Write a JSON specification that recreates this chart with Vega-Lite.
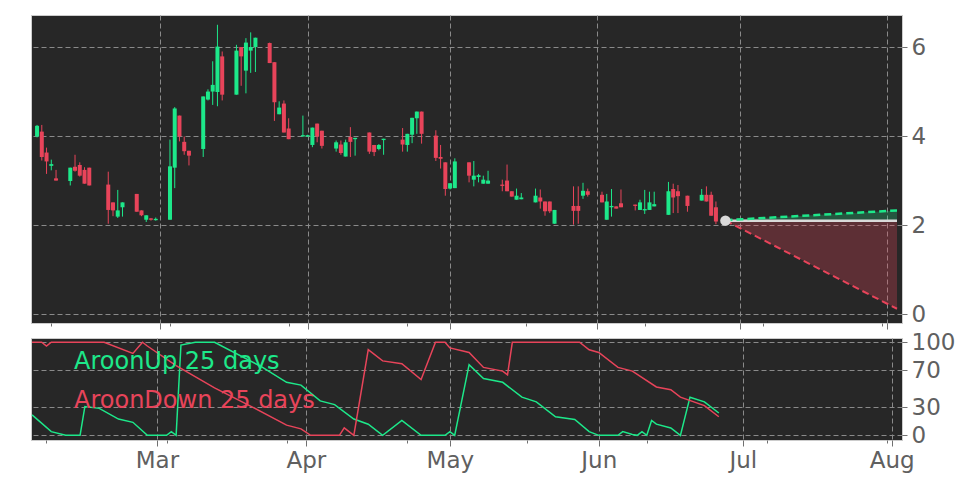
{
  "$schema": "https://vega.github.io/schema/vega-lite/v6.json",
  "background": "white",
  "padding": {"left": 30, "top": 14, "right": 0, "bottom": 0},
  "spacing": 15,
  "bounds": "flush",
  "config": {
    "font": "DejaVu Sans",
    "view": {"fill": "#272727", "stroke": "#cccccc", "strokeWidth": 1},
    "axis": {
      "labelFont": "DejaVu Sans",
      "labelFontSize": 23,
      "labelColor": "#606060",
      "tickColor": "#707070",
      "domain": false,
      "gridColor": "#8a8a8a",
      "gridDash": [5, 3],
      "gridWidth": 1,
      "title": null
    }
  },
  "datasets": {
    "candles": [
      {"d": "2025-02-03", "o": 3.99, "h": 4.25, "l": 3.97, "c": 4.23},
      {"d": "2025-02-04", "o": 4.10, "h": 4.25, "l": 3.45, "c": 3.53},
      {"d": "2025-02-05", "o": 3.63, "h": 3.74, "l": 3.15, "c": 3.43},
      {"d": "2025-02-06", "o": 3.33, "h": 3.47, "l": 3.23, "c": 3.37},
      {"d": "2025-02-07", "o": 3.05, "h": 3.24, "l": 3.00, "c": 3.00},
      {"d": "2025-02-10", "o": 2.99, "h": 3.29, "l": 2.89, "c": 3.29},
      {"d": "2025-02-11", "o": 3.31, "h": 3.58, "l": 3.20, "c": 3.22},
      {"d": "2025-02-12", "o": 3.35, "h": 3.41, "l": 3.09, "c": 3.11},
      {"d": "2025-02-13", "o": 3.24, "h": 3.30, "l": 2.93, "c": 2.93},
      {"d": "2025-02-14", "o": 3.29, "h": 3.29, "l": 2.89, "c": 2.89},
      {"d": "2025-02-18", "o": 2.91, "h": 3.20, "l": 2.03, "c": 2.34},
      {"d": "2025-02-19", "o": 2.51, "h": 2.51, "l": 2.20, "c": 2.33},
      {"d": "2025-02-20", "o": 2.19, "h": 2.79, "l": 2.16, "c": 2.33},
      {"d": "2025-02-21", "o": 2.40, "h": 2.51, "l": 2.19, "c": 2.51},
      {"d": "2025-02-24", "o": 2.70, "h": 2.70, "l": 2.30, "c": 2.30},
      {"d": "2025-02-25", "o": 2.33, "h": 2.33, "l": 2.20, "c": 2.22},
      {"d": "2025-02-26", "o": 2.12, "h": 2.22, "l": 2.07, "c": 2.22},
      {"d": "2025-02-27", "o": 2.15, "h": 2.16, "l": 2.10, "c": 2.12},
      {"d": "2025-02-28", "o": 2.11, "h": 2.17, "l": 2.10, "c": 2.14},
      {"d": "2025-03-03", "o": 2.12, "h": 3.92, "l": 2.12, "c": 3.32},
      {"d": "2025-03-04", "o": 3.29, "h": 4.65, "l": 2.83, "c": 4.62},
      {"d": "2025-03-05", "o": 4.46, "h": 4.46, "l": 3.88, "c": 3.99},
      {"d": "2025-03-06", "o": 3.87, "h": 3.99, "l": 3.58, "c": 3.66},
      {"d": "2025-03-07", "o": 3.67, "h": 3.67, "l": 3.34, "c": 3.56},
      {"d": "2025-03-10", "o": 3.71, "h": 4.89, "l": 3.53, "c": 4.89},
      {"d": "2025-03-11", "o": 4.82, "h": 5.05, "l": 4.80, "c": 5.00},
      {"d": "2025-03-12", "o": 5.00, "h": 5.68, "l": 4.70, "c": 5.15},
      {"d": "2025-03-13", "o": 4.99, "h": 6.50, "l": 4.67, "c": 6.01},
      {"d": "2025-03-14", "o": 5.79, "h": 5.90, "l": 4.80, "c": 4.93},
      {"d": "2025-03-17", "o": 4.93, "h": 6.05, "l": 4.93, "c": 5.92},
      {"d": "2025-03-18", "o": 6.00, "h": 6.00, "l": 5.13, "c": 5.79},
      {"d": "2025-03-19", "o": 5.47, "h": 6.20, "l": 4.96, "c": 6.10},
      {"d": "2025-03-20", "o": 5.92, "h": 6.33, "l": 5.42, "c": 6.00},
      {"d": "2025-03-21", "o": 6.00, "h": 6.21, "l": 5.44, "c": 6.21},
      {"d": "2025-03-24", "o": 6.09, "h": 6.10, "l": 5.64, "c": 5.64},
      {"d": "2025-03-25", "o": 5.66, "h": 5.66, "l": 4.34, "c": 4.76},
      {"d": "2025-03-26", "o": 4.49, "h": 4.78, "l": 4.49, "c": 4.64},
      {"d": "2025-03-27", "o": 4.73, "h": 4.80, "l": 4.08, "c": 4.08},
      {"d": "2025-03-28", "o": 4.17, "h": 4.40, "l": 3.93, "c": 3.93},
      {"d": "2025-03-31", "o": 3.99, "h": 4.46, "l": 3.99, "c": 4.02},
      {"d": "2025-04-01", "o": 3.99, "h": 4.03, "l": 3.98, "c": 4.02},
      {"d": "2025-04-02", "o": 3.80, "h": 4.19, "l": 3.75, "c": 4.19},
      {"d": "2025-04-03", "o": 4.28, "h": 4.28, "l": 3.86, "c": 3.99},
      {"d": "2025-04-04", "o": 4.12, "h": 4.12, "l": 3.72, "c": 3.78},
      {"d": "2025-04-07", "o": 3.72, "h": 3.90, "l": 3.65, "c": 3.86},
      {"d": "2025-04-08", "o": 3.81, "h": 3.90, "l": 3.58, "c": 3.62},
      {"d": "2025-04-09", "o": 3.54, "h": 3.92, "l": 3.54, "c": 3.86},
      {"d": "2025-04-10", "o": 3.98, "h": 4.20, "l": 3.53, "c": 3.87},
      {"d": "2025-04-11", "o": 3.93, "h": 3.96, "l": 3.56, "c": 3.96},
      {"d": "2025-04-14", "o": 4.08, "h": 4.08, "l": 3.60, "c": 3.65},
      {"d": "2025-04-15", "o": 3.80, "h": 3.80, "l": 3.55, "c": 3.64},
      {"d": "2025-04-16", "o": 3.71, "h": 3.82, "l": 3.68, "c": 3.80},
      {"d": "2025-04-17", "o": 3.91, "h": 3.94, "l": 3.58, "c": 3.94},
      {"d": "2025-04-21", "o": 3.92, "h": 4.18, "l": 3.65, "c": 3.81},
      {"d": "2025-04-22", "o": 3.80, "h": 4.05, "l": 3.65, "c": 4.05},
      {"d": "2025-04-23", "o": 4.03, "h": 4.41, "l": 3.84, "c": 4.41},
      {"d": "2025-04-24", "o": 4.40, "h": 4.55, "l": 4.05, "c": 4.55},
      {"d": "2025-04-25", "o": 4.55, "h": 4.55, "l": 3.83, "c": 4.05},
      {"d": "2025-04-28", "o": 4.01, "h": 4.13, "l": 3.44, "c": 3.51},
      {"d": "2025-04-29", "o": 3.53, "h": 3.80, "l": 3.27, "c": 3.49},
      {"d": "2025-04-30", "o": 3.41, "h": 3.41, "l": 2.66, "c": 2.81},
      {"d": "2025-05-01", "o": 2.82, "h": 2.94, "l": 2.80, "c": 2.94},
      {"d": "2025-05-02", "o": 2.83, "h": 3.50, "l": 2.83, "c": 3.43},
      {"d": "2025-05-05", "o": 3.41, "h": 3.41, "l": 2.96, "c": 3.11},
      {"d": "2025-05-06", "o": 3.02, "h": 3.44, "l": 2.87, "c": 3.11},
      {"d": "2025-05-07", "o": 3.08, "h": 3.15, "l": 2.96, "c": 3.12},
      {"d": "2025-05-08", "o": 2.93, "h": 3.11, "l": 2.93, "c": 3.02},
      {"d": "2025-05-09", "o": 2.93, "h": 3.22, "l": 2.93, "c": 3.00},
      {"d": "2025-05-12", "o": 2.91, "h": 3.02, "l": 2.76, "c": 2.88},
      {"d": "2025-05-13", "o": 3.00, "h": 3.36, "l": 2.76, "c": 2.76},
      {"d": "2025-05-14", "o": 2.76, "h": 2.76, "l": 2.64, "c": 2.64},
      {"d": "2025-05-15", "o": 2.57, "h": 2.82, "l": 2.57, "c": 2.66},
      {"d": "2025-05-16", "o": 2.58, "h": 2.72, "l": 2.58, "c": 2.62},
      {"d": "2025-05-19", "o": 2.51, "h": 2.82, "l": 2.51, "c": 2.66},
      {"d": "2025-05-20", "o": 2.62, "h": 2.80, "l": 2.37, "c": 2.53},
      {"d": "2025-05-21", "o": 2.53, "h": 2.53, "l": 2.21, "c": 2.31},
      {"d": "2025-05-22", "o": 2.53, "h": 2.53, "l": 2.27, "c": 2.31},
      {"d": "2025-05-23", "o": 2.03, "h": 2.34, "l": 2.03, "c": 2.34},
      {"d": "2025-05-27", "o": 2.43, "h": 2.87, "l": 2.01, "c": 2.32},
      {"d": "2025-05-28", "o": 2.43, "h": 2.87, "l": 2.03, "c": 2.32},
      {"d": "2025-05-29", "o": 2.66, "h": 2.95, "l": 2.59, "c": 2.77},
      {"d": "2025-05-30", "o": 2.76, "h": 2.82, "l": 2.64, "c": 2.68},
      {"d": "2025-06-02", "o": 2.68, "h": 2.75, "l": 2.51, "c": 2.51},
      {"d": "2025-06-03", "o": 2.12, "h": 2.70, "l": 2.12, "c": 2.53},
      {"d": "2025-06-04", "o": 2.40, "h": 2.81, "l": 2.19, "c": 2.43},
      {"d": "2025-06-05", "o": 2.42, "h": 2.42, "l": 2.37, "c": 2.37},
      {"d": "2025-06-06", "o": 2.49, "h": 2.80, "l": 2.40, "c": 2.40},
      {"d": "2025-06-09", "o": 2.46, "h": 2.46, "l": 2.33, "c": 2.43},
      {"d": "2025-06-10", "o": 2.34, "h": 2.57, "l": 2.34, "c": 2.51},
      {"d": "2025-06-11", "o": 2.33, "h": 2.79, "l": 2.25, "c": 2.36},
      {"d": "2025-06-12", "o": 2.34, "h": 2.75, "l": 2.34, "c": 2.51},
      {"d": "2025-06-13", "o": 2.42, "h": 2.75, "l": 2.42, "c": 2.47},
      {"d": "2025-06-16", "o": 2.23, "h": 2.97, "l": 2.23, "c": 2.76},
      {"d": "2025-06-17", "o": 2.81, "h": 2.93, "l": 2.27, "c": 2.62},
      {"d": "2025-06-18", "o": 2.76, "h": 2.90, "l": 2.27, "c": 2.65},
      {"d": "2025-06-20", "o": 2.66, "h": 2.66, "l": 2.30, "c": 2.43},
      {"d": "2025-06-23", "o": 2.55, "h": 2.81, "l": 2.55, "c": 2.68},
      {"d": "2025-06-24", "o": 2.68, "h": 2.87, "l": 2.53, "c": 2.53},
      {"d": "2025-06-25", "o": 2.68, "h": 2.75, "l": 2.21, "c": 2.21},
      {"d": "2025-06-26", "o": 2.40, "h": 2.53, "l": 2.02, "c": 2.08}
    ],
    "forecast": [
      {"d": "2025-06-28", "base": 2.10, "hi": 2.11, "lo": 2.10},
      {"d": "2025-08-03T03:22:00Z", "base": 2.10, "hi": 2.33, "lo": 0.12}
    ],
    "last": [{"d": "2025-06-28", "v": 2.10}],
    "aroon": [
      {"d": "2025-02-03", "s": "AroonUp 25 days", "v": 22},
      {"d": "2025-02-07", "s": "AroonUp 25 days", "v": 4},
      {"d": "2025-02-10", "s": "AroonUp 25 days", "v": 0},
      {"d": "2025-02-13", "s": "AroonUp 25 days", "v": 0},
      {"d": "2025-02-14", "s": "AroonUp 25 days", "v": 31},
      {"d": "2025-02-17", "s": "AroonUp 25 days", "v": 29},
      {"d": "2025-02-21", "s": "AroonUp 25 days", "v": 17.5},
      {"d": "2025-02-24", "s": "AroonUp 25 days", "v": 14},
      {"d": "2025-02-27", "s": "AroonUp 25 days", "v": 0},
      {"d": "2025-03-03", "s": "AroonUp 25 days", "v": 0},
      {"d": "2025-03-04", "s": "AroonUp 25 days", "v": 4},
      {"d": "2025-03-05", "s": "AroonUp 25 days", "v": 0},
      {"d": "2025-03-06", "s": "AroonUp 25 days", "v": 97},
      {"d": "2025-03-09", "s": "AroonUp 25 days", "v": 100},
      {"d": "2025-03-13", "s": "AroonUp 25 days", "v": 100},
      {"d": "2025-03-23", "s": "AroonUp 25 days", "v": 73},
      {"d": "2025-03-28", "s": "AroonUp 25 days", "v": 57},
      {"d": "2025-03-31", "s": "AroonUp 25 days", "v": 54},
      {"d": "2025-04-04", "s": "AroonUp 25 days", "v": 37},
      {"d": "2025-04-07", "s": "AroonUp 25 days", "v": 33},
      {"d": "2025-04-11", "s": "AroonUp 25 days", "v": 17.5},
      {"d": "2025-04-14", "s": "AroonUp 25 days", "v": 12},
      {"d": "2025-04-17", "s": "AroonUp 25 days", "v": 0},
      {"d": "2025-04-21", "s": "AroonUp 25 days", "v": 16},
      {"d": "2025-04-25", "s": "AroonUp 25 days", "v": 0},
      {"d": "2025-04-30", "s": "AroonUp 25 days", "v": 0},
      {"d": "2025-05-01", "s": "AroonUp 25 days", "v": 4},
      {"d": "2025-05-02", "s": "AroonUp 25 days", "v": 0},
      {"d": "2025-05-05", "s": "AroonUp 25 days", "v": 76},
      {"d": "2025-05-08", "s": "AroonUp 25 days", "v": 61},
      {"d": "2025-05-12", "s": "AroonUp 25 days", "v": 57},
      {"d": "2025-05-16", "s": "AroonUp 25 days", "v": 41},
      {"d": "2025-05-19", "s": "AroonUp 25 days", "v": 36},
      {"d": "2025-05-23", "s": "AroonUp 25 days", "v": 20},
      {"d": "2025-05-27", "s": "AroonUp 25 days", "v": 17},
      {"d": "2025-05-30", "s": "AroonUp 25 days", "v": 4},
      {"d": "2025-06-01", "s": "AroonUp 25 days", "v": 0},
      {"d": "2025-06-05", "s": "AroonUp 25 days", "v": 0},
      {"d": "2025-06-06", "s": "AroonUp 25 days", "v": 4},
      {"d": "2025-06-08", "s": "AroonUp 25 days", "v": 1},
      {"d": "2025-06-09", "s": "AroonUp 25 days", "v": 0},
      {"d": "2025-06-10", "s": "AroonUp 25 days", "v": 4},
      {"d": "2025-06-11", "s": "AroonUp 25 days", "v": 0},
      {"d": "2025-06-12", "s": "AroonUp 25 days", "v": 16},
      {"d": "2025-06-13", "s": "AroonUp 25 days", "v": 12},
      {"d": "2025-06-16", "s": "AroonUp 25 days", "v": 8},
      {"d": "2025-06-18", "s": "AroonUp 25 days", "v": 0},
      {"d": "2025-06-20", "s": "AroonUp 25 days", "v": 41},
      {"d": "2025-06-23", "s": "AroonUp 25 days", "v": 36},
      {"d": "2025-06-26", "s": "AroonUp 25 days", "v": 24},
      {"d": "2025-02-03", "s": "AroonDown 25 days", "v": 100},
      {"d": "2025-02-05", "s": "AroonDown 25 days", "v": 100},
      {"d": "2025-02-06", "s": "AroonDown 25 days", "v": 96},
      {"d": "2025-02-07", "s": "AroonDown 25 days", "v": 100},
      {"d": "2025-02-10", "s": "AroonDown 25 days", "v": 100},
      {"d": "2025-02-14", "s": "AroonDown 25 days", "v": 100},
      {"d": "2025-02-18", "s": "AroonDown 25 days", "v": 100},
      {"d": "2025-02-24", "s": "AroonDown 25 days", "v": 88},
      {"d": "2025-02-26", "s": "AroonDown 25 days", "v": 100},
      {"d": "2025-02-27", "s": "AroonDown 25 days", "v": 96},
      {"d": "2025-03-05", "s": "AroonDown 25 days", "v": 75},
      {"d": "2025-03-13", "s": "AroonDown 25 days", "v": 51},
      {"d": "2025-03-21", "s": "AroonDown 25 days", "v": 30},
      {"d": "2025-03-28", "s": "AroonDown 25 days", "v": 11},
      {"d": "2025-03-31", "s": "AroonDown 25 days", "v": 7},
      {"d": "2025-04-02", "s": "AroonDown 25 days", "v": 0},
      {"d": "2025-04-08", "s": "AroonDown 25 days", "v": 0},
      {"d": "2025-04-09", "s": "AroonDown 25 days", "v": 8},
      {"d": "2025-04-11", "s": "AroonDown 25 days", "v": 0},
      {"d": "2025-04-14", "s": "AroonDown 25 days", "v": 92},
      {"d": "2025-04-17", "s": "AroonDown 25 days", "v": 80},
      {"d": "2025-04-21", "s": "AroonDown 25 days", "v": 77},
      {"d": "2025-04-25", "s": "AroonDown 25 days", "v": 60},
      {"d": "2025-04-28", "s": "AroonDown 25 days", "v": 100},
      {"d": "2025-04-30", "s": "AroonDown 25 days", "v": 100},
      {"d": "2025-05-01", "s": "AroonDown 25 days", "v": 94},
      {"d": "2025-05-05", "s": "AroonDown 25 days", "v": 89},
      {"d": "2025-05-08", "s": "AroonDown 25 days", "v": 73},
      {"d": "2025-05-12", "s": "AroonDown 25 days", "v": 69},
      {"d": "2025-05-13", "s": "AroonDown 25 days", "v": 65},
      {"d": "2025-05-14", "s": "AroonDown 25 days", "v": 100},
      {"d": "2025-05-28", "s": "AroonDown 25 days", "v": 100},
      {"d": "2025-05-30", "s": "AroonDown 25 days", "v": 92},
      {"d": "2025-06-01", "s": "AroonDown 25 days", "v": 89},
      {"d": "2025-06-05", "s": "AroonDown 25 days", "v": 73},
      {"d": "2025-06-08", "s": "AroonDown 25 days", "v": 69},
      {"d": "2025-06-13", "s": "AroonDown 25 days", "v": 52},
      {"d": "2025-06-16", "s": "AroonDown 25 days", "v": 49},
      {"d": "2025-06-18", "s": "AroonDown 25 days", "v": 41},
      {"d": "2025-06-23", "s": "AroonDown 25 days", "v": 32},
      {"d": "2025-06-26", "s": "AroonDown 25 days", "v": 20}
    ]
  },
  "vconcat": [
    {
      "width": 871,
      "height": 308,
      "layer": [
        {
          "data": {"name": "forecast"},
          "mark": {"type": "area", "color": "#e8445a", "opacity": 0.28, "clip": true},
          "encoding": {
            "x": {
              "field": "d", "type": "temporal",
              "scale": {"type": "utc", "domain": [{"year": 2025, "month": 2, "date": 2, "hours": 18, "minutes": 43, "utc": true}, {"year": 2025, "month": 8, "date": 3, "hours": 3, "minutes": 22, "utc": true}]},
              "axis": {
                "orient": "bottom",
                "labels": false,
                "grid": true,
                "values": [
                  {"year": 2025, "month": 2, "date": 6, "utc": true},
                  {"year": 2025, "month": 3, "date": 1, "utc": true},
                  {"year": 2025, "month": 3, "date": 3, "utc": true},
                  {"year": 2025, "month": 3, "date": 28, "utc": true},
                  {"year": 2025, "month": 4, "date": 1, "utc": true},
                  {"year": 2025, "month": 4, "date": 22, "utc": true},
                  {"year": 2025, "month": 5, "date": 1, "utc": true},
                  {"year": 2025, "month": 5, "date": 17, "utc": true},
                  {"year": 2025, "month": 6, "date": 1, "utc": true},
                  {"year": 2025, "month": 6, "date": 11, "utc": true},
                  {"year": 2025, "month": 7, "date": 1, "utc": true},
                  {"year": 2025, "month": 7, "date": 6, "utc": true},
                  {"year": 2025, "month": 7, "date": 31, "utc": true},
                  {"year": 2025, "month": 8, "date": 1, "utc": true}
                ],
                "gridOpacity": {"condition": {"test": "utcdate(datum.value) == 1", "value": 1}, "value": 0},
                "tickSize": {"condition": {"test": "utcdate(datum.value) == 1", "value": 6}, "value": 3}
              }
            },
            "y": {
              "field": "lo", "type": "quantitative",
              "scale": {"domain": [-0.2, 6.72], "nice": false, "zero": false},
              "axis": {"orient": "right", "values": [0, 2, 4, 6], "grid": true, "tickSize": 5, "labelPadding": 4}
            },
            "y2": {"field": "base"}
          }
        },
        {
          "data": {"name": "forecast"},
          "mark": {"type": "area", "color": "#1de88a", "opacity": 0.25, "clip": true},
          "encoding": {
            "x": {"field": "d", "type": "temporal"},
            "y": {"field": "base", "type": "quantitative"},
            "y2": {"field": "hi"}
          }
        },
        {
          "data": {"name": "forecast"},
          "mark": {"type": "line", "color": "#d9d9d9", "strokeWidth": 2.5, "clip": true},
          "encoding": {
            "x": {"field": "d", "type": "temporal"},
            "y": {"field": "base", "type": "quantitative"}
          }
        },
        {
          "data": {"name": "forecast"},
          "mark": {"type": "line", "color": "#1de88a", "strokeWidth": 2.5, "strokeDash": [7, 4], "clip": true},
          "encoding": {
            "x": {"field": "d", "type": "temporal"},
            "y": {"field": "hi", "type": "quantitative"}
          }
        },
        {
          "data": {"name": "forecast"},
          "mark": {"type": "line", "color": "#e8445a", "strokeWidth": 2, "strokeDash": [7, 4], "clip": true},
          "encoding": {
            "x": {"field": "d", "type": "temporal"},
            "y": {"field": "lo", "type": "quantitative"}
          }
        },
        {
          "data": {"name": "candles"},
          "mark": {"type": "rule", "strokeWidth": 1, "clip": true},
          "encoding": {
            "x": {"field": "d", "type": "temporal"},
            "y": {"field": "l", "type": "quantitative"},
            "y2": {"field": "h"},
            "color": {"condition": {"test": "datum.c >= datum.o", "value": "#1de88a"}, "value": "#e8445a"}
          }
        },
        {
          "data": {"name": "candles"},
          "mark": {"type": "bar", "size": 4, "clip": true},
          "encoding": {
            "x": {"field": "d", "type": "temporal"},
            "y": {"field": "o", "type": "quantitative"},
            "y2": {"field": "c"},
            "color": {"condition": {"test": "datum.c >= datum.o", "value": "#1de88a"}, "value": "#e8445a"}
          }
        },
        {
          "data": {"name": "last"},
          "mark": {"type": "point", "filled": true, "size": 110, "color": "#d9d9d9", "opacity": 1},
          "encoding": {
            "x": {"field": "d", "type": "temporal"},
            "y": {"field": "v", "type": "quantitative"}
          }
        }
      ]
    },
    {
      "width": 871,
      "height": 102,
      "data": {"name": "aroon"},
      "mark": {"type": "line", "strokeWidth": 1.5, "clip": true},
      "encoding": {
        "x": {
          "field": "d", "type": "temporal",
          "scale": {"type": "utc", "domain": [{"year": 2025, "month": 2, "date": 2, "hours": 18, "minutes": 43, "utc": true}, {"year": 2025, "month": 8, "date": 3, "hours": 3, "minutes": 22, "utc": true}]},
          "axis": {
            "orient": "bottom",
            "grid": true,
            "labelPadding": 3,
            "values": [
              {"year": 2025, "month": 2, "date": 6, "utc": true},
              {"year": 2025, "month": 3, "date": 1, "utc": true},
              {"year": 2025, "month": 3, "date": 3, "utc": true},
              {"year": 2025, "month": 3, "date": 28, "utc": true},
              {"year": 2025, "month": 4, "date": 1, "utc": true},
              {"year": 2025, "month": 4, "date": 22, "utc": true},
              {"year": 2025, "month": 5, "date": 1, "utc": true},
              {"year": 2025, "month": 5, "date": 17, "utc": true},
              {"year": 2025, "month": 6, "date": 1, "utc": true},
              {"year": 2025, "month": 6, "date": 11, "utc": true},
              {"year": 2025, "month": 7, "date": 1, "utc": true},
              {"year": 2025, "month": 7, "date": 6, "utc": true},
              {"year": 2025, "month": 7, "date": 31, "utc": true},
              {"year": 2025, "month": 8, "date": 1, "utc": true}
            ],
            "labelExpr": "utcdate(datum.value) == 1 ? utcFormat(datum.value, '%b') : ''",
            "gridOpacity": {"condition": {"test": "utcdate(datum.value) == 1", "value": 1}, "value": 0},
            "tickSize": {"condition": {"test": "utcdate(datum.value) == 1", "value": 6}, "value": 3}
          }
        },
        "y": {
          "field": "v", "type": "quantitative",
          "scale": {"domain": [-5, 104.6], "nice": false, "zero": false},
          "axis": {"orient": "right", "values": [0, 30, 70, 100], "grid": true, "tickSize": 5, "labelPadding": 4}
        },
        "color": {
          "field": "s", "type": "nominal",
          "scale": {"domain": ["AroonUp 25 days", "AroonDown 25 days"], "range": ["#1de88a", "#e8445a"]},
          "legend": {
            "orient": "none",
            "legendX": 19,
            "legendY": 335,
            "title": null,
            "padding": 0,
            "symbolSize": 0,
            "symbolOpacity": 0,
            "symbolStrokeWidth": 0,
            "labelOffset": 0,
            "labelFont": "DejaVu Sans",
            "labelFontSize": 24,
            "labelLimit": 400,
            "rowPadding": 15,
            "encode": {"labels": {"update": {"fill": {"signal": "datum.value == 'AroonUp 25 days' ? '#1de88a' : '#e8445a'"}}}}
          }
        }
      }
    }
  ]
}
